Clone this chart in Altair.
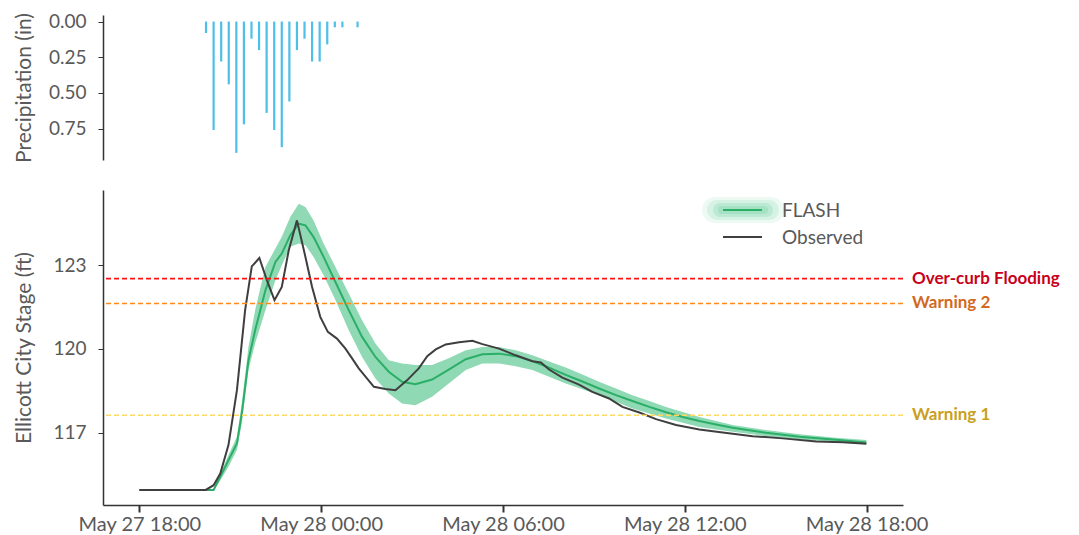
import altair as alt
import pandas as pd

# ---------------- data ----------------
BASE = pd.Timestamp("2018-05-27 18:00")

# precipitation (15-min bars), hours after May 27 18:00 and inches
precip_hours = [2.20, 2.45, 2.70, 2.95, 3.20, 3.45, 3.70, 3.95, 4.20, 4.45,
                4.70, 4.95, 5.20, 5.45, 5.70, 5.95, 6.20, 6.45, 6.70, 7.20]
precip_in = [0.08, 0.76, 0.28, 0.44, 0.92, 0.72, 0.12, 0.20, 0.64, 0.76,
             0.88, 0.56, 0.20, 0.12, 0.28, 0.28, 0.16, 0.04, 0.04, 0.04]

# FLASH forecast: mean and uncertainty band
flash_hours = [0, 2.45, 2.61, 2.94, 3.22, 3.38, 3.60, 3.82, 4.16, 4.49, 4.70,
               4.98, 5.26, 5.48, 5.75, 6.08, 6.47, 6.91, 7.35, 7.79, 8.23,
               8.67, 9.11, 9.66, 10.21, 10.77, 11.32, 11.87, 12.42, 12.97,
               13.52, 14.07, 14.62, 15.17, 15.73, 16.27, 16.83, 17.38, 17.93,
               18.48, 19.03, 19.58, 20.68, 21.79, 22.89, 23.99]
flash_mean = [114.94, 114.94, 115.29, 116.01, 116.61, 117.68, 119.59, 120.67,
              122.10, 123.12, 123.42, 124.08, 124.49, 124.43, 124.01, 123.30,
              122.40, 121.39, 120.43, 119.71, 119.18, 118.82, 118.73, 118.90,
              119.26, 119.63, 119.81, 119.83, 119.74, 119.56, 119.33, 119.07,
              118.83, 118.58, 118.34, 118.13, 117.92, 117.73, 117.56, 117.41,
              117.29, 117.17, 116.99, 116.85, 116.75, 116.64]
flash_low = [114.94, 114.94, 115.17, 115.77, 116.37, 117.33, 119.24, 120.19,
             121.39, 122.46, 123.00, 123.66, 123.78, 123.72, 123.30, 122.64,
             121.75, 120.67, 119.71, 118.94, 118.40, 118.04, 117.98, 118.28,
             118.76, 119.24, 119.48, 119.48, 119.38, 119.24, 119.00, 118.76,
             118.55, 118.34, 118.10, 117.86, 117.68, 117.50, 117.35, 117.20,
             117.11, 117.03, 116.87, 116.75, 116.66, 116.58]
flash_high = [114.94, 114.94, 115.35, 116.19, 116.85, 118.04, 120.07, 121.39,
              122.94, 123.60, 124.02, 124.73, 125.21, 125.09, 124.61, 123.78,
              122.94, 121.99, 121.03, 120.19, 119.59, 119.48, 119.42, 119.42,
              119.66, 119.95, 120.07, 120.07, 119.95, 119.77, 119.55, 119.33,
              119.08, 118.82, 118.58, 118.34, 118.13, 117.92, 117.74, 117.56,
              117.41, 117.27, 117.09, 116.94, 116.82, 116.73]

# Observed stage
obs_hours = [0, 2.19, 2.45, 2.67, 2.94, 3.22, 3.49, 3.71, 3.96, 4.21, 4.46,
             4.70, 4.93, 5.20, 5.48, 5.70, 5.97, 6.22, 6.52, 6.80, 7.02, 7.24,
             7.51, 7.74, 8.12, 8.45, 8.84, 9.22, 9.50, 9.78, 10.11, 10.55,
             10.99, 11.32, 11.87, 12.42, 12.97, 13.25, 13.52, 13.96, 14.51,
             14.95, 15.50, 15.94, 16.50, 17.05, 17.71, 18.48, 19.25, 20.24,
             21.23, 22.34, 23.22, 23.99]
obs_stage = [114.94, 114.94, 115.11, 115.53, 116.55, 118.52, 121.39, 122.96,
             123.26, 122.46, 121.75, 122.22, 123.54, 124.61, 123.30, 122.22,
             121.15, 120.61, 120.37, 120.01, 119.66, 119.30, 118.94, 118.64,
             118.56, 118.52, 118.88, 119.30, 119.74, 119.98, 120.16, 120.24,
             120.29, 120.17, 120.01, 119.77, 119.56, 119.51, 119.26, 118.97,
             118.72, 118.46, 118.22, 117.92, 117.72, 117.48, 117.27, 117.11,
             117.00, 116.87, 116.79, 116.68, 116.65, 116.60]

# thresholds
thr_names = ["Over-curb Flooding", "Warning 2", "Warning 1"]
thr_levels = [122.52, 121.63, 117.62]
thr_line_colors = ["#FF1010", "#FF8C1A", "#FFD966"]
thr_text_colors = ["#C8001A", "#D2691E", "#C9A020"]

legend_names = ["FLASH", "Observed"]
x_tick_hours = [0, 6, 12, 18, 24]

# ---------------- build tables ----------------
def to_time(hours):
    return BASE + pd.to_timedelta(hours, unit="h")

precip_df = pd.DataFrame({"t": to_time(precip_hours), "p": precip_in})
flash_df = pd.DataFrame({"t": to_time(flash_hours), "mean": flash_mean,
                         "low": flash_low, "high": flash_high})
obs_df = pd.DataFrame({"t": to_time(obs_hours), "stage": obs_stage})
thr_df = pd.DataFrame({"name": thr_names, "level": thr_levels})

def dt(ts):
    return alt.DateTime(year=ts.year, month=ts.month, date=ts.day,
                        hours=ts.hour, minutes=ts.minute)

x_domain = [dt(BASE - pd.Timedelta(minutes=72)), dt(BASE + pd.Timedelta(hours=25, minutes=12))]
x_ticks = [dt(BASE + pd.Timedelta(hours=h)) for h in x_tick_hours]

FONT = "Lato"
GREY = "#595959"

# ---------------- top panel ----------------
top = alt.Chart(precip_df).mark_rule(color="#4DBFE8", strokeWidth=2.2).encode(
    x=alt.X("t:T", scale=alt.Scale(domain=x_domain), axis=None),
    y=alt.Y("p:Q", scale=alt.Scale(domain=[-0.046, 0.97], reverse=True, nice=False, zero=False),
            axis=alt.Axis(values=[0, 0.25, 0.5, 0.75], format=".2f",
                          title="Precipitation (in)", tickSize=5, labelPadding=12,
                          titleX=-69, titleAngle=270, titleBaseline="bottom",
                          titleAlign="center")),
    y2=alt.datum(0),
).properties(width=800, height=145)

# ---------------- bottom panel ----------------
xenc = alt.X("t:T", scale=alt.Scale(domain=x_domain),
             axis=alt.Axis(values=x_ticks, format="%b %d %H:%M", title=None,
                           tickSize=7, tickWidth=2, labelPadding=2, labelFontSize=20))
yscale = alt.Scale(domain=[114.4, 125.7], nice=False, zero=False)
yaxis = alt.Axis(values=[117, 120, 123], title="Ellicott City Stage (ft)",
                 tickSize=5, labelPadding=12, titleX=-69, titleAngle=270,
                 titleBaseline="bottom", titleAlign="center", titleFontSize=21)

band = alt.Chart(flash_df).mark_area(color="#8FD9B5", opacity=1).encode(
    x=xenc, y=alt.Y("low:Q", scale=yscale, axis=yaxis), y2="high:Q")
flash_line = alt.Chart(flash_df).mark_line(color="#2BAE66", strokeWidth=2).encode(
    x="t:T", y="mean:Q")
obs_line = alt.Chart(obs_df).mark_line(color="#3F3F3F", strokeWidth=2).encode(
    x="t:T", y="stage:Q")

thr_rules = alt.Chart(thr_df).mark_rule(strokeDash=[5, 3], strokeWidth=1.6).encode(
    y="level:Q",
    color=alt.Color("name:N", scale=alt.Scale(domain=thr_names, range=thr_line_colors),
                    legend=None))
thr_text = alt.Chart(thr_df).mark_text(align="left", baseline="middle", font=FONT,
                                       fontSize=17, fontWeight="bold").encode(
    y="level:Q", x=alt.value(809), text="name:N",
    fill=alt.Fill("name:N", scale=alt.Scale(domain=thr_names, range=thr_text_colors),
                  legend=None))

# manual legend
leg_df1 = pd.DataFrame({"label": [legend_names[0]]})
leg_df2 = pd.DataFrame({"label": [legend_names[1]]})
glows = []
for w, op, x1, x2 in [(26, 0.12, 612, 668), (20, 0.18, 614, 666),
                      (14, 0.25, 617, 663), (8, 0.3, 619, 661)]:
    glows.append(alt.Chart(leg_df1).mark_rule(color="#6FD09E", strokeWidth=w, opacity=op,
                                              strokeCap="round").encode(
        x=alt.value(x1), x2=alt.value(x2), y=alt.value(20)))
leg_flash = alt.Chart(leg_df1).mark_rule(color="#2BAE66", strokeWidth=2).encode(
    x=alt.value(620), x2=alt.value(659), y=alt.value(20))
leg_obs = alt.Chart(leg_df2).mark_rule(color="#3F3F3F", strokeWidth=2).encode(
    x=alt.value(620), x2=alt.value(659), y=alt.value(47))
leg_txt1 = alt.Chart(leg_df1).mark_text(align="left", baseline="middle", font=FONT,
                                        fontSize=19, color=GREY).encode(
    x=alt.value(679), y=alt.value(21), text="label:N")
leg_txt2 = alt.Chart(leg_df2).mark_text(align="left", baseline="middle", font=FONT,
                                        fontSize=19, color=GREY).encode(
    x=alt.value(679), y=alt.value(48), text="label:N")

bottom = alt.layer(band, flash_line, obs_line, thr_rules, thr_text,
                   *glows, leg_flash, leg_obs, leg_txt1, leg_txt2
                   ).resolve_scale(color="independent").properties(width=800, height=315)

chart = alt.vconcat(top, bottom, spacing=30, bounds="flush").properties(
    padding={"left": 5, "top": 4, "right": 5, "bottom": 0}
).configure_view(stroke=None).configure_axis(
    grid=False, labelFont=FONT, titleFont=FONT, labelFontSize=19, titleFontSize=21,
    labelColor=GREY, titleColor=GREY, titleFontWeight="normal",
    domainColor="#333333", tickColor="#333333", domainWidth=1.5
)

chart.save("out.html", embed_options={"renderer": "svg", "actions": False})
